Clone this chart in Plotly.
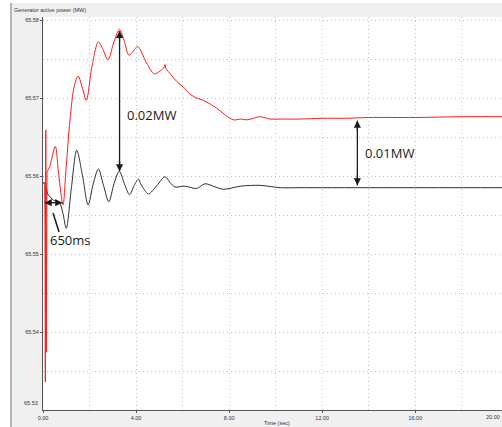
import plotly.graph_objects as go

# ---------------- data ----------------
# initial switching transient (drawn straight)
red_spike_t = [0.0, 0.08, 0.10, 0.12, 0.14, 0.17]
red_spike_v = [65.5591, 65.5591, 65.5336, 65.5659, 65.5374, 65.5605]

red_t = [0.17, 0.29, 0.36, 0.53, 0.67, 0.86, 0.98, 1.16, 1.35, 1.51, 1.70, 1.86, 2.10,
         2.38, 2.58, 2.79, 3.05, 3.29, 3.50, 3.69, 3.88, 4.07, 4.45, 4.78, 5.05, 5.20,
         5.24, 5.28, 5.50, 5.75, 6.03, 6.32, 6.60, 6.89, 7.20, 7.46, 7.80, 8.18, 8.50,
         8.75, 9.05, 9.33, 9.76, 10.2, 11.0, 12.0, 13.0, 14.0, 16.0, 18.0, 20.0]
red_v = [65.5605, 65.5612, 65.5620, 65.5638, 65.5603, 65.5563, 65.5605, 65.5672, 65.5716,
         65.5728, 65.5712, 65.5697, 65.5740, 65.5772, 65.5762, 65.5749, 65.5772, 65.5788,
         65.5772, 65.5755, 65.5760, 65.5766, 65.5745, 65.5731, 65.5735, 65.5739, 65.5743,
         65.5738, 65.5730, 65.5721, 65.5714, 65.5705, 65.5700, 65.5697, 65.5692, 65.5687,
         65.5679, 65.5672, 65.5673, 65.5672, 65.5674, 65.5676, 65.5673, 65.5673, 65.5673,
         65.5674, 65.5674, 65.5675, 65.5675, 65.5676, 65.5676]

black_spike_t = [0.0, 0.09, 0.11, 0.13, 0.20]
black_spike_v = [65.5591, 65.5591, 65.5545, 65.5585, 65.5577]

black_t = [0.20, 0.45, 0.70, 0.85, 1.00, 1.22, 1.45, 1.70, 1.94, 2.16, 2.38, 2.60, 2.83,
           3.05, 3.28, 3.50, 3.72, 3.92, 4.10, 4.20, 4.30, 4.53, 4.90, 5.24, 5.45, 5.67,
           6.10, 6.60, 6.96, 7.40, 7.75, 8.50, 9.33, 10.2, 11.0, 12.0, 14.0, 16.0, 18.0, 20.0]
black_v = [65.5577, 65.5569, 65.5566, 65.5553, 65.5533, 65.5585, 65.5633, 65.5600, 65.5563,
           65.5590, 65.5609, 65.5588, 65.5567, 65.5590, 65.5606, 65.5590, 65.5576, 65.5588,
           65.5596, 65.5590, 65.5585, 65.5577, 65.5588, 65.5599, 65.5592, 65.5586, 65.5587,
           65.5584, 65.5590, 65.5586, 65.5583, 65.5587, 65.5588, 65.5585, 65.5585, 65.5585,
           65.5585, 65.5585, 65.5585, 65.5585]

x_ticks = [0, 4, 8, 12, 16]
y_ticks = [65.54, 65.55, 65.56, 65.57, 65.58]

# measurement annotations (data units)
meas_002_t, meas_002_top, meas_002_bot = 3.29, 65.5786, 65.5606
meas_001_t, meas_001_top, meas_001_bot = 13.51, 65.5671, 65.5588
delay_t0, delay_t1, delay_v = 0.07, 0.83, 65.55658

W, H = 502, 427
ML, MR, MT, MB = 43, 0, 17, 17
PW, PH = W - ML - MR, H - MT - MB


def px2paper_x(px):
    return (px - ML) / PW


def px2paper_y(py):
    return (H - MB - py) / PH


fig = go.Figure()
line_black = dict(color="#303030", width=1)
line_red = dict(color="#ff1a1a", width=1)
fig.add_trace(go.Scatter(x=black_spike_t, y=black_spike_v, mode="lines", line=line_black,
                         hoverinfo="skip"))
fig.add_trace(go.Scatter(x=black_t, y=black_v, mode="lines",
                         line=dict(line_black, shape="spline", smoothing=0.9)))
fig.add_trace(go.Scatter(x=red_spike_t, y=red_spike_v, mode="lines", line=line_red,
                         hoverinfo="skip"))
fig.add_trace(go.Scatter(x=red_t, y=red_v, mode="lines",
                         line=dict(line_red, shape="spline", smoothing=0.9)))

tickfont = dict(family="Liberation Sans", size=5.5, color="#333333")
grid = dict(gridcolor="#c4c4c4", griddash="1px,3px", gridwidth=1)

fig.update_xaxes(range=[0, PW / 23.27], tickvals=x_ticks,
                 ticktext=[f"{v:.2f}" for v in x_ticks], tickfont=tickfont,
                 ticks="outside", ticklen=2, tickcolor="#555", showline=True,
                 linecolor="#555555", linewidth=1, zeroline=False, showgrid=True,
                 minor=dict(dtick=2, tick0=0, showgrid=True, **grid), **grid)
fig.update_yaxes(range=[65.53, 65.53 + PH / 7800], tickvals=y_ticks,
                 ticktext=[f"{v:.2f}" for v in y_ticks], tickfont=tickfont,
                 ticks="outside", ticklen=2, tickcolor="#555", showline=True,
                 linecolor="#555555", linewidth=1, zeroline=False, showgrid=True,
                 minor=dict(dtick=0.005, tick0=65.53, showgrid=True, **grid), **grid)

shapes = [
    # white outer strips and dark frame line of the panel
    dict(type="rect", xref="paper", yref="paper", x0=px2paper_x(0), x1=px2paper_x(10.5),
         y0=px2paper_y(H), y1=px2paper_y(0), fillcolor="white", line_width=0),
    dict(type="rect", xref="paper", yref="paper", x0=px2paper_x(0), x1=px2paper_x(W),
         y0=px2paper_y(3), y1=px2paper_y(0), fillcolor="white", line_width=0),
    dict(type="line", xref="paper", yref="paper", x0=px2paper_x(11), x1=px2paper_x(11),
         y0=px2paper_y(H), y1=px2paper_y(3), line=dict(color="#a0a0a0", width=1.5)),
    # measurement lines
    dict(type="line", x0=meas_002_t, x1=meas_002_t, y0=meas_002_bot, y1=meas_002_top,
         line=dict(color="#1a1a1a", width=1.3)),
    dict(type="line", x0=meas_001_t, x1=meas_001_t, y0=meas_001_bot, y1=meas_001_top,
         line=dict(color="#1a1a1a", width=1.3)),
    dict(type="line", x0=delay_t0, x1=delay_t1, y0=delay_v, y1=delay_v,
         line=dict(color="#1a1a1a", width=1.3)),
    dict(type="line", x0=0.43, x1=0.69, y0=65.55526, y1=65.55282,
         line=dict(color="#1a1a1a", width=1.5)),
]

arrow = dict(showarrow=True, text="", arrowhead=2, arrowsize=1.1, arrowwidth=1.3,
             arrowcolor="#1a1a1a", axref="pixel", ayref="pixel")
ann = [
    dict(x=meas_002_t, y=meas_002_top, ax=0, ay=12, **arrow),
    dict(x=meas_002_t, y=meas_002_bot, ax=0, ay=-12, **arrow),
    dict(x=meas_001_t, y=meas_001_top, ax=0, ay=12, **arrow),
    dict(x=meas_001_t, y=meas_001_bot, ax=0, ay=-12, **arrow),
    dict(x=delay_t0, y=delay_v, ax=8, ay=0, **arrow),
    dict(x=delay_t1, y=delay_v, ax=-8, ay=0, **arrow),
]
mfont = dict(family="Open Sans", size=13, color="#1a1a1a")
ann += [
    dict(xref="paper", yref="paper", x=px2paper_x(151), y=px2paper_y(115), text="0.02MW",
         showarrow=False, font=mfont, xanchor="center", yanchor="middle"),
    dict(xref="paper", yref="paper", x=px2paper_x(389), y=px2paper_y(153), text="0.01MW",
         showarrow=False, font=mfont, xanchor="center", yanchor="middle"),
    dict(xref="paper", yref="paper", x=px2paper_x(70), y=px2paper_y(240), text="650ms",
         showarrow=False, font=mfont, xanchor="center", yanchor="middle"),
    dict(xref="paper", yref="paper", x=px2paper_x(12), y=px2paper_y(10),
         text="Generator active power (MW)", showarrow=False, font=tickfont,
         xanchor="left", yanchor="middle"),
    dict(xref="paper", yref="paper", x=px2paper_x(40), y=px2paper_y(403),
         text="65.53", showarrow=False, font=tickfont, xanchor="right", yanchor="middle"),
    dict(xref="paper", yref="paper", x=px2paper_x(501.5), y=px2paper_y(417),
         text="20.00", showarrow=False, font=tickfont, xanchor="right", yanchor="middle"),
    dict(xref="paper", yref="paper", x=px2paper_x(277), y=px2paper_y(422.5),
         text="Time (sec)", showarrow=False, font=tickfont, xanchor="center",
         yanchor="middle"),
]

fig.update_layout(width=W, height=H, margin=dict(l=ML, r=MR, t=MT, b=MB),
                  paper_bgcolor="#f0f0f0", plot_bgcolor="white", showlegend=False,
                  shapes=shapes, annotations=ann)
# remove the default 8px page margin so the 502x427 figure fills the window exactly
fig.write_html("out.html", config={"displayModeBar": False},
               post_script="document.body.style.margin='0';"
                           "document.body.style.overflow='hidden';")
